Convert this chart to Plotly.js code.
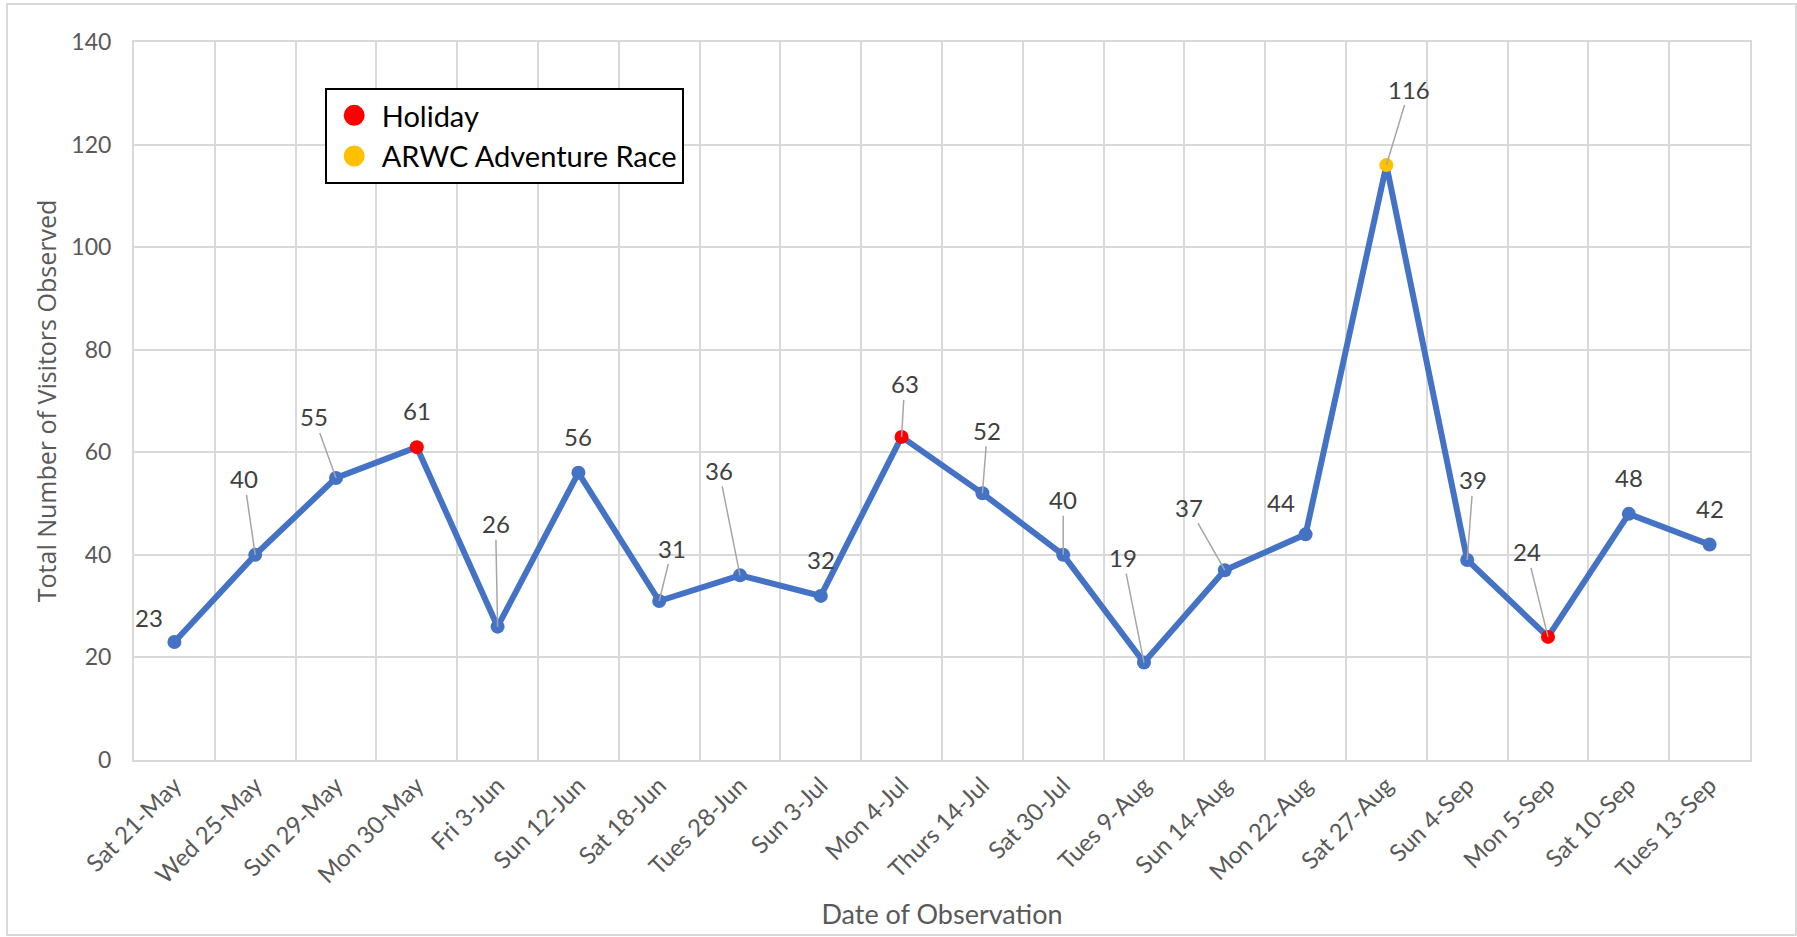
<!DOCTYPE html>
<html><head><meta charset="utf-8">
<script src="https://cdn.plot.ly/plotly-3.0.1.min.js"></script>
<style>
html,body{margin:0;padding:0;background:#fff;}
#wrap{position:relative;width:1797px;height:937px;overflow:hidden;}
#chart{width:1797px;height:937px;}
#frame{position:absolute;left:6px;top:3px;width:1787px;height:929px;border:2px solid #d9d9d9;pointer-events:none;}
</style>
</head><body>
<div id="wrap"><div id="chart"></div><div id="frame"></div></div>
<script>
// ---- data ----
const dates = ["Sat 21-May","Wed 25-May","Sun 29-May","Mon 30-May","Fri 3-Jun","Sun 12-Jun","Sat 18-Jun","Tues 28-Jun","Sun 3-Jul","Mon 4-Jul","Thurs 14-Jul","Sat 30-Jul","Tues 9-Aug","Sun 14-Aug","Mon 22-Aug","Sat 27-Aug","Sun 4-Sep","Mon 5-Sep","Sat 10-Sep","Tues 13-Sep"];
const visitors = [23,40,55,61,26,56,31,36,32,63,52,40,19,37,44,116,39,24,48,42];
const holidayFlag = [0,0,0,1,0,0,0,0,0,1,0,0,0,0,0,0,0,1,0,0];
const raceFlag    = [0,0,0,0,0,0,0,0,0,0,0,0,0,0,0,1,0,0,0,0];
const legendNames = ["Holiday","ARWC Adventure Race"];

// ---- styling (label placement in pixels) ----
const labelDX = [-25,-11,-22,0,-2,0,13,-21,0,3,5,0,-21,-36,-25,23,6,-21,0,0];
const labelDY = [-25,-76,-61,-37,-103,-36,-53,-105,-36,-53,-63,-55,-105,-63,-32,-76,-80,-85,-36,-36];
const leader  = [0,1,1,0,1,0,1,1,0,1,1,1,1,1,0,1,1,1,0,0];

const BLUE = "#4472C4", RED = "#FF0000", GOLD = "#FFC000";
const markerColors = visitors.map((v,i)=> holidayFlag[i] ? RED : (raceFlag[i] ? GOLD : BLUE));

const traces = [
  {x: dates, y: visitors, type: "scatter", mode: "lines+markers",
   line: {color: BLUE, width: 6}, marker: {color: markerColors, size: 14},
   showlegend: false, hoverinfo: "skip"},
  {x: [null], y: [null], type: "scatter", mode: "markers", name: legendNames[0],
   marker: {color: RED, size: 30, line: {color: RED, width: 5}}, hoverinfo: "skip"},
  {x: [null], y: [null], type: "scatter", mode: "markers", name: legendNames[1],
   marker: {color: GOLD, size: 30, line: {color: GOLD, width: 5}}, hoverinfo: "skip"}
];

const annotations = visitors.map((v,i)=>{
  const a = {x: dates[i], y: v, xref: "x", yref: "y", text: String(v),
    font: {family: "Lato, sans-serif", size: 24, color: "#404040"}};
  if (leader[i]) {
    Object.assign(a, {showarrow: true, arrowhead: 0, arrowwidth: 1.5, arrowcolor: "#a6a6a6",
      ax: labelDX[i], ay: labelDY[i], standoff: 0});
  } else {
    Object.assign(a, {showarrow: false, xshift: labelDX[i], yshift: -labelDY[i]});
  }
  return a;
});

const layout = {
  width: 1797, height: 937,
  margin: {l: 134, r: 47, t: 42, b: 177},
  paper_bgcolor: "rgba(0,0,0,0)", plot_bgcolor: "#fff",
  font: {family: "Lato, sans-serif", color: "#595959"},
  xaxis: {
    type: "category", range: [-0.5, dates.length - 0.5], autorange: false,
    tickson: "boundaries", showgrid: true, gridcolor: "#d9d9d9", gridwidth: 2,
    showline: true, linecolor: "#d9d9d9", linewidth: 2, mirror: true,
    ticks: "outside", ticklen: 18, tickcolor: "rgba(0,0,0,0)", tickangle: -45,
    tickfont: {family: "Lato, sans-serif", size: 24, color: "#595959"},
    title: {text: "Date of Observation", font: {family: "Lato, sans-serif", size: 27, color: "#595959"}, standoff: 17},
    automargin: false, fixedrange: true
  },
  yaxis: {
    range: [0, 140], dtick: 20, showgrid: true, gridcolor: "#d9d9d9", gridwidth: 2,
    zeroline: false, showline: true, linecolor: "#d9d9d9", linewidth: 2, mirror: true,
    ticks: "outside", ticklen: 16, tickcolor: "rgba(0,0,0,0)",
    tickfont: {family: "Lato, sans-serif", size: 23, color: "#595959"},
    title: {text: "Total Number of Visitors Observed", font: {family: "'Open Sans', sans-serif", size: 25, color: "#595959"}, standoff: 8},
    automargin: false, fixedrange: true
  },
  legend: {x: 0.118, y: 0.936, xanchor: "left", yanchor: "top",
    bgcolor: "#fff", bordercolor: "#000", borderwidth: 2,
    font: {family: "Lato, sans-serif", size: 29, color: "#000"},
    itemwidth: 45, tracegroupgap: 0},
  annotations: annotations,
  hovermode: false
};

Plotly.newPlot("chart", traces, layout, {displayModeBar: false, staticPlot: true});
</script>
</body></html>
